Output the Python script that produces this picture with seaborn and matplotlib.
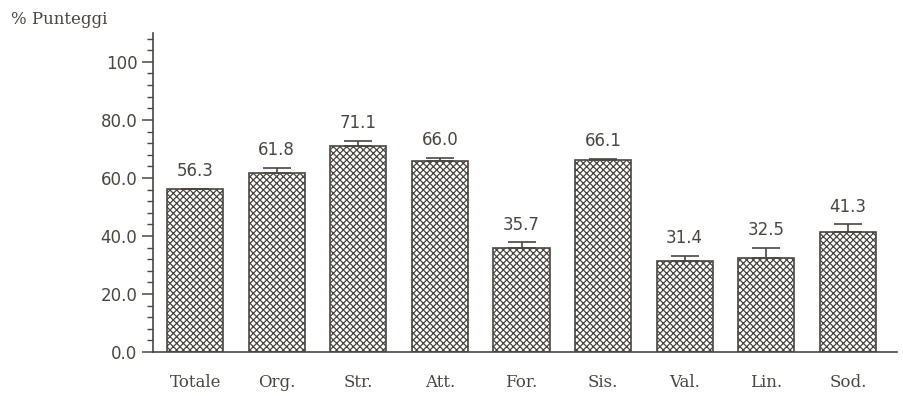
import matplotlib
matplotlib.use("Agg")
import matplotlib.pyplot as plt
import seaborn as sns
import pandas as pd
from matplotlib.ticker import MultipleLocator, FixedLocator

categories = ["Totale", "Org.", "Str.", "Att.", "For.", "Sis.", "Val.", "Lin.", "Sod."]
values = [56.3, 61.8, 71.1, 66.0, 35.7, 66.1, 31.4, 32.5, 41.3]
errors = [0.0, 1.8, 1.8, 1.0, 2.1, 0.4, 1.8, 3.5, 2.7]
value_labels = ["56.3", "61.8", "71.1", "66.0", "35.7", "66.1", "31.4", "32.5", "41.3"]
ytick_values = [0, 20, 40, 60, 80, 100]
ytick_labels = ["0.0", "20.0", "40.0", "60.0", "80.0", "100"]

sns.set_style("white")
plt.rcParams["font.family"] = ["DejaVu Sans"]
plt.rcParams["hatch.linewidth"] = 0.9
plt.rcParams["hatch.color"] = "#77716b"

ink = "#4a4642"
df = pd.DataFrame({"cat": categories, "val": values})

fig = plt.figure(figsize=(9.04, 3.96), dpi=100)
ax = fig.add_axes([0.169, 0.111, 0.823, 0.806])

sns.barplot(data=df, x="cat", y="val", ax=ax, color="white", width=0.69,
            edgecolor=ink, linewidth=1.2, errorbar=None)
for p in ax.patches:
    p.set_hatch("xxxxx")

xs = list(range(len(categories)))
ax.errorbar(xs, values, yerr=[[0] * len(errors), errors], fmt="none",
            ecolor=ink, elinewidth=1.2, capsize=10, capthick=1.2)

for x, v, e, lab in zip(xs, values, errors, value_labels):
    ax.text(x, v + e + 3.0, lab, ha="center", va="bottom", fontsize=12,
            color=ink, family="DejaVu Sans")

ax.set_xlim(-0.52, 8.6)
ax.set_ylim(0, 110)
ax.yaxis.set_major_locator(FixedLocator(ytick_values))
ax.set_yticklabels(ytick_labels, fontsize=12, color=ink)
ax.yaxis.set_minor_locator(MultipleLocator(4))
ax.tick_params(axis="y", which="major", direction="out", length=8, width=1.1,
               color=ink, left=True, pad=3)
ax.tick_params(axis="y", which="minor", direction="out", length=4, width=1.0,
               color=ink, left=True)
ax.tick_params(axis="x", length=0, pad=16)
for lab in ax.get_xticklabels():
    lab.set_family("DejaVu Serif")
    lab.set_fontsize(12)
    lab.set_color(ink)

ax.set_xlabel("")
ax.set_ylabel("")
for s in ["top", "right"]:
    ax.spines[s].set_visible(False)
for s in ["left", "bottom"]:
    ax.spines[s].set_color(ink)
    ax.spines[s].set_linewidth(1.2)

fig.text(0.012, 0.93, "% Punteggi", fontsize=12, color=ink,
         family="DejaVu Serif", ha="left", va="bottom")

fig.savefig("out.png", dpi=100, facecolor="white")
